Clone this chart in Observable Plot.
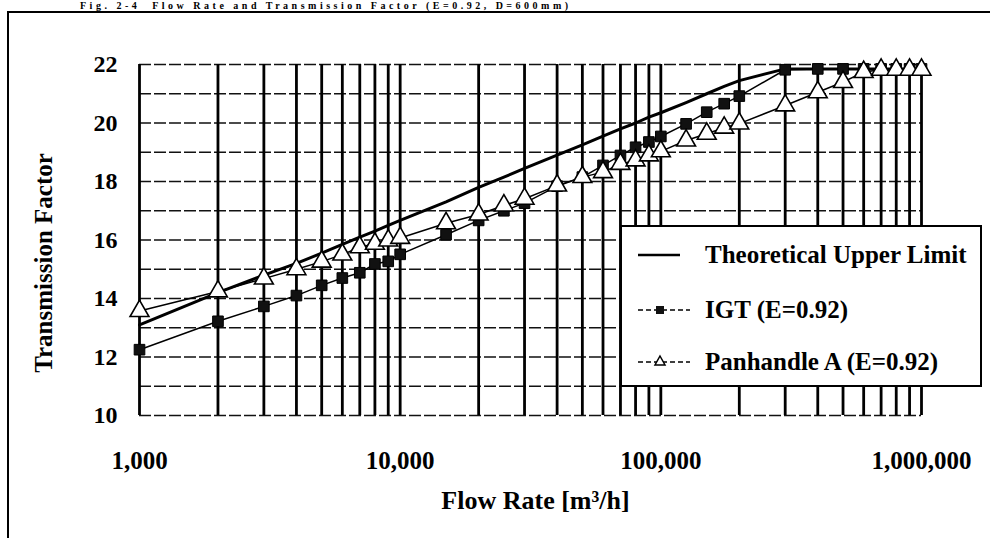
<!DOCTYPE html>
<html>
<head>
<meta charset="utf-8">
<script src="https://cdn.jsdelivr.net/npm/d3@7"></script>
<script src="https://cdn.jsdelivr.net/npm/@observablehq/plot@0.6"></script>
<style>
  html, body { margin: 0; padding: 0; background: #fff; }
  #wrap { position: relative; width: 990px; height: 538px; overflow: hidden; font-family: "Liberation Serif", "DejaVu Serif", serif; }
  #frame { position: absolute; left: 7px; top: 11px; width: 1000px; height: 600px; border: 2px solid #000; box-sizing: border-box; }
  #title { position: absolute; left: 80px; top: 1px; font-size: 10px; letter-spacing: 3.5px; font-weight: bold; white-space: nowrap; line-height: 10px; }
  #legend { position: absolute; left: 620px; top: 225px; width: 362px; height: 162px; background: #fff; border: 2px solid #000; box-sizing: border-box; }
  .row { position: absolute; left: 14px; height: 30px; display: flex; align-items: center; font-size: 25px; font-weight: bold; white-space: nowrap; }
  .row svg { margin-right: 13px; }
  #chart { position: absolute; left: 0; top: 0; }
</style>
</head>
<body>
<div id="wrap">
  <div id="frame"></div>
  <div id="chart"></div>
  <div id="title">Fig. 2-4&nbsp;&nbsp;Flow Rate and Transmission Factor (E=0.92, D=600mm)</div>
  <div id="legend"></div>
</div>
<script>
// Flow rate [m3/h]
const flow = [1000, 2000, 3000, 4000, 5000, 6000, 7000, 8000, 9000, 10000,
  15000, 20000, 25000, 30000, 40000, 50000, 60000, 70000, 80000, 90000, 100000,
  125000, 150000, 175000, 200000, 300000, 400000, 500000, 600000, 700000, 800000, 900000, 1000000];
// Theoretical Upper Limit
const theory = [13.1, 14.2, 14.8, 15.2, 15.55, 15.85, 16.1, 16.3, 16.5, 16.67,
  17.3, 17.8, 18.15, 18.45, 18.9, 19.25, 19.55, 19.8, 20.0, 20.2, 20.35,
  20.7, 21.0, 21.25, 21.45, 21.85, 21.85, 21.85, 21.85, 21.85, 21.85, 21.85, 21.85];
// IGT (E=0.92)
const igt = [12.25, 13.22, 13.73, 14.1, 14.45, 14.7, 14.88, 15.18, 15.27, 15.51,
  16.18, 16.67, 17.0, 17.26, 17.84, 18.15, 18.55, 18.89, 19.17, 19.35, 19.54,
  19.97, 20.37, 20.66, 20.92, 21.82, 21.85, 21.85, 21.85, 21.85, 21.85, 21.85, 21.85];
// Panhandle A (E=0.92)
const panhandle = [13.57, 14.24, 14.68, 15.0, 15.26, 15.5, 15.75, 15.87, 15.98, 16.07,
  16.57, 16.87, 17.18, 17.41, 17.86, 18.15, 18.32, 18.6, 18.72, 18.89, 19.03,
  19.4, 19.63, 19.84, 19.98, 20.6, 21.05, 21.4, 21.74, 21.82, 21.82, 21.82, 21.82];

const seriesNames = ["Theoretical Upper Limit", "IGT (E=0.92)", "Panhandle A (E=0.92)"];
const xTickLabels = [1000, 10000, 100000, 1000000];
const xGrid = [1000, 2000, 3000, 4000, 5000, 6000, 7000, 8000, 9000,
  10000, 20000, 30000, 40000, 50000, 60000, 70000, 80000, 90000,
  100000, 200000, 300000, 400000, 500000, 600000, 700000, 800000, 900000, 1000000];
const yTickLabels = [10, 12, 14, 16, 18, 20, 22];
const yGrid = [10, 11, 12, 13, 14, 15, 16, 17, 18, 19, 20, 21, 22];
const xLabel = "Flow Rate [m³/h]";
const yLabel = "Transmission Factor";

const tTheory = flow.map((f, i) => ({flow: f, value: theory[i]}));
const tIgt = flow.map((f, i) => ({flow: f, value: igt[i]}));
const tPan = flow.map((f, i) => ({flow: f, value: panhandle[i]}));

const serif = "'Liberation Serif', 'DejaVu Serif', serif";

const chart = Plot.plot({
  width: 990,
  height: 538,
  marginLeft: 139,
  marginRight: 69,
  marginTop: 64,
  marginBottom: 123,
  style: {fontFamily: serif, background: "transparent", color: "#000"},
  x: {type: "log", domain: [1000, 1000000]},
  y: {domain: [10, 22]},
  marks: [
    Plot.ruleY(yGrid, {stroke: "#111", strokeWidth: 1.5, strokeDasharray: "12,3"}),
    Plot.ruleX(xGrid, {stroke: "#000", strokeWidth: 2.8}),
    Plot.axisX({ticks: xTickLabels, tickFormat: d3.format(","), tickSize: 0, tickPadding: 36, fontSize: 25, fontWeight: "bold", label: null}),
    Plot.axisY({ticks: yTickLabels, tickSize: 0, tickPadding: 22, fontSize: 24, fontWeight: "bold", label: null}),
    Plot.line(tTheory, {x: "flow", y: "value", stroke: "#000", strokeWidth: 3}),
    Plot.line(tIgt, {x: "flow", y: "value", stroke: "#000", strokeWidth: 1.5}),
    Plot.line(tPan, {x: "flow", y: "value", stroke: "#000", strokeWidth: 1.5}),
    Plot.dot(tIgt, {x: "flow", y: "value", symbol: "square", r: 6, fill: "#111", stroke: "#000", strokeWidth: 1}),
    Plot.dot(tPan, {x: "flow", y: "value", symbol: "triangle", r: 7, fill: "#fff", stroke: "#000", strokeWidth: 1.6}),
    Plot.text([xLabel], {frameAnchor: "bottom", dx: 5, dy: 93, fontSize: 26, fontWeight: "bold", textAnchor: "middle"}),
    Plot.text([yLabel], {frameAnchor: "left", dx: -96, dy: 23, rotate: -90, fontSize: 25, fontWeight: "bold", textAnchor: "middle"})
  ]
});
document.getElementById("chart").appendChild(chart);

// Legend
const legend = document.getElementById("legend");
const rowsTop = [13, 68, 120];
seriesNames.forEach((name, i) => {
  const row = document.createElement("div");
  row.className = "row";
  row.style.top = rowsTop[i] + "px";
  let sample;
  if (i === 0) {
    sample = `<svg width="56" height="20"><line x1="2" x2="44" y1="10" y2="10" stroke="#000" stroke-width="2.5"/></svg>`;
  } else if (i === 1) {
    sample = `<svg width="56" height="20"><line x1="2" x2="54" y1="10" y2="10" stroke="#000" stroke-width="1.5" stroke-dasharray="5,3"/><rect x="20" y="6" width="8" height="8" fill="#111"/></svg>`;
  } else {
    sample = `<svg width="56" height="20"><line x1="2" x2="54" y1="10" y2="10" stroke="#000" stroke-width="1.5" stroke-dasharray="5,3"/><path d="M24,4 L29,13 L19,13 Z" fill="#fff" stroke="#000" stroke-width="1.5"/></svg>`;
  }
  row.innerHTML = sample + `<span>${name}</span>`;
  legend.appendChild(row);
});
</script>
</body>
</html>
